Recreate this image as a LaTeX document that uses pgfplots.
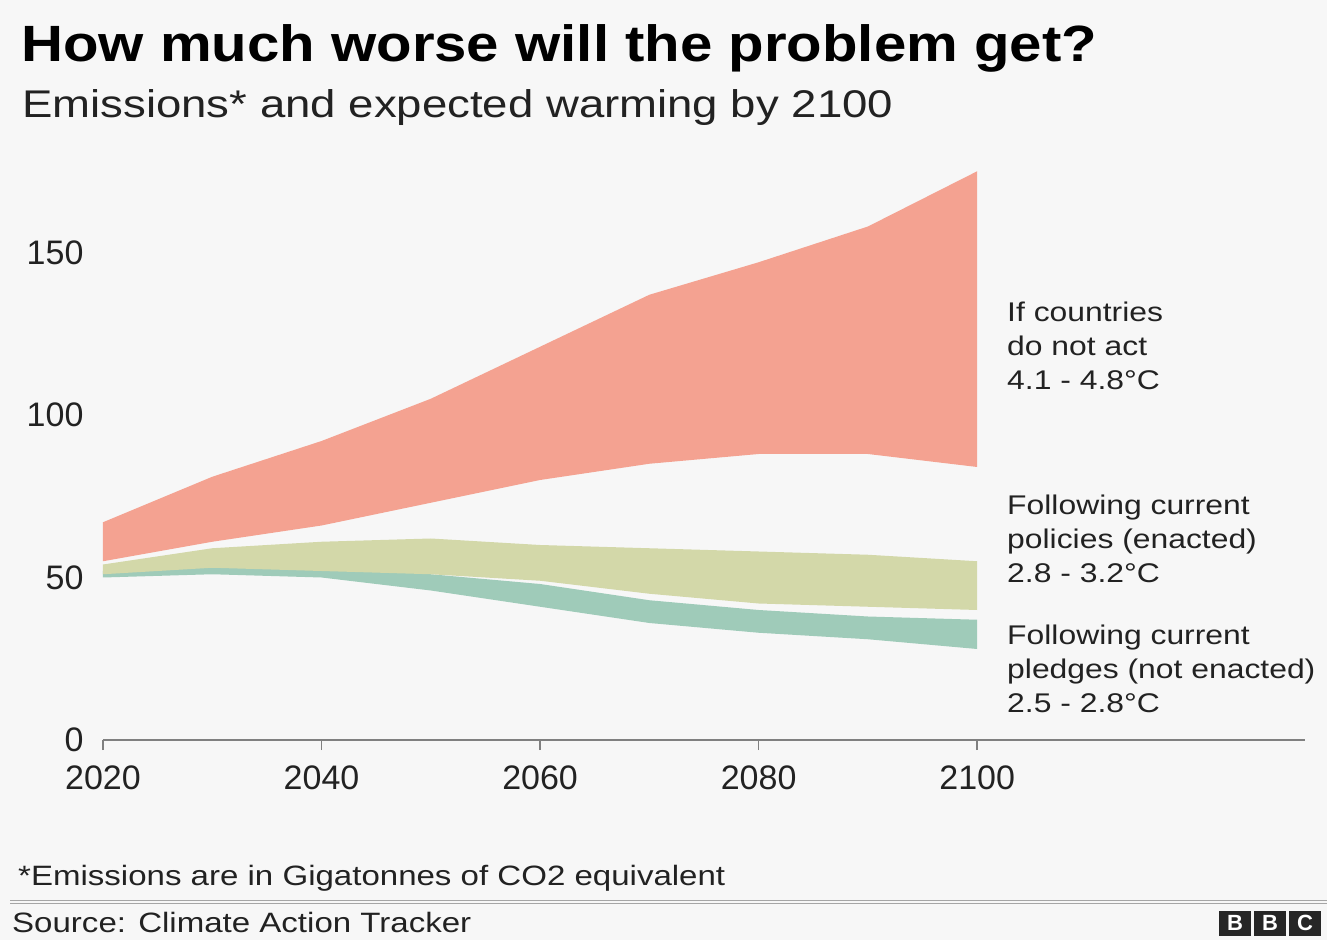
\documentclass[border=0pt]{standalone}
\usepackage{pgfplots}
\pgfplotsset{compat=1.18}
\usepackage{fontspec}
\setmainfont{Liberation Sans}
\newfontfamily\wide[FakeStretch=1.18]{Liberation Sans}
\newfontfamily\widet[FakeStretch=1.14]{Liberation Sans}
\definecolor{bg}{HTML}{F7F7F7}
\definecolor{redband}{HTML}{F4A291}
\definecolor{polband}{HTML}{D3D8A9}
\definecolor{pledband}{HTML}{9FCBB9}
\definecolor{axisgrey}{HTML}{808080}
\definecolor{txt}{HTML}{222222}

% each band: upper edge 2020->2100, then lower edge 2100->2020
\pgfplotstableread{
year val
2020 67
2030 81
2040 92
2050 105
2060 121
2070 137
2080 147
2090 158
2100 175
2100 84
2090 88
2080 88
2070 85
2060 80
2050 73
2040 66
2030 61
2020 55
}\redtab
\pgfplotstableread{
year val
2020 54
2030 59
2040 61
2050 62
2060 60
2070 59
2080 58
2090 57
2100 55
2100 40
2090 41
2080 42
2070 45
2060 49
2050 51
2040 52
2030 53
2020 51
}\poltab
\pgfplotstableread{
year val
2020 52
2030 54
2040 54
2050 51
2060 48
2070 43
2080 40
2090 38
2100 37
2100 28
2090 31
2080 33
2070 36
2060 41
2050 46
2040 50
2030 51
2020 50
}\pledtab

\begin{document}
\begin{tikzpicture}
\fill[bg] (0pt,0pt) rectangle (1327pt,940pt);
\useasboundingbox (0pt,0pt) rectangle (1327pt,940pt);
\begin{axis}[
  at={(103pt,200pt)}, anchor=south west,
  scale only axis, width=1202pt, height=585pt,
  xmin=2020, xmax=2130, ymin=0, ymax=180,
  axis x line*=bottom, axis y line*=left,
  y axis line style={draw=none},
  x axis line style={draw=axisgrey, line width=2pt},
  xtick={2020,2040,2060,2080,2100},
  ytick={0,50,100,150},
  tick align=outside,
  major tick length=10pt,
  xtick style={draw=axisgrey, line width=1.5pt},
  ytick style={draw=none},
  /pgf/number format/1000 sep={},
  /pgf/number format/assume math mode=true,
  ticklabel style={font=\fontsize{34}{40}\selectfont, text=txt},
  yticklabel style={xshift=-6pt},
  xticklabel style={yshift=-12pt},
  clip=false,
]
\addplot[draw=none, fill=pledband] table[x=year, y=val] {\pledtab} -- cycle;
\addplot[draw=none, fill=polband] table[x=year, y=val] {\poltab} -- cycle;
\addplot[draw=none, fill=redband] table[x=year, y=val] {\redtab} -- cycle;
\end{axis}

% titles
\node[anchor=base west, inner sep=0, text=black] at (21pt,878pt)
  {\widet\bfseries\fontsize{51}{60}\selectfont How much worse will the problem get?};
\node[anchor=base west, inner sep=0, text=txt] at (22pt,822pt)
  {\wide\fontsize{38.6}{46}\selectfont Emissions* and expected warming by 2100};

% right labels (anchor is the baseline of the last line)
\tikzset{rlab/.style={anchor=base west, inner sep=0, align=left, text=txt,
  font={\wide\fontsize{27}{34}\selectfont}}}
\node[rlab] at (1007pt,550pt) {If countries\\do not act\\4.1 - 4.8°C};
\node[rlab] at (1007pt,357pt) {Following current\\policies (enacted)\\2.8 - 3.2°C};
\node[rlab] at (1007pt,228pt) {Following current\\pledges (not enacted)\\2.5 - 2.8°C};

% footnote and source
\node[anchor=base west, inner sep=0, text=txt] at (18pt,55pt)
  {\wide\fontsize{28}{34}\selectfont *Emissions are in Gigatonnes of CO2 equivalent};
\draw[axisgrey!70, line width=1pt] (10pt,40pt) -- (1327pt,40pt);
\draw[axisgrey!70, line width=1pt] (10pt,37pt) -- (1327pt,37pt);
\node[anchor=base west, inner sep=0, text=txt] at (12pt,8pt)
  {\wide\fontsize{28}{34}\selectfont Source: Climate Action Tracker};

% BBC blocks
\foreach \i/\l in {0/B,1/B,2/C}{
  \node[fill=black!85, text=white, minimum width=32pt, minimum height=25pt, inner sep=0,
        font=\bfseries\fontsize{22}{22}\selectfont] at (1235pt+\i*35pt, 17pt) {\l};
}
\end{tikzpicture}
\end{document}
